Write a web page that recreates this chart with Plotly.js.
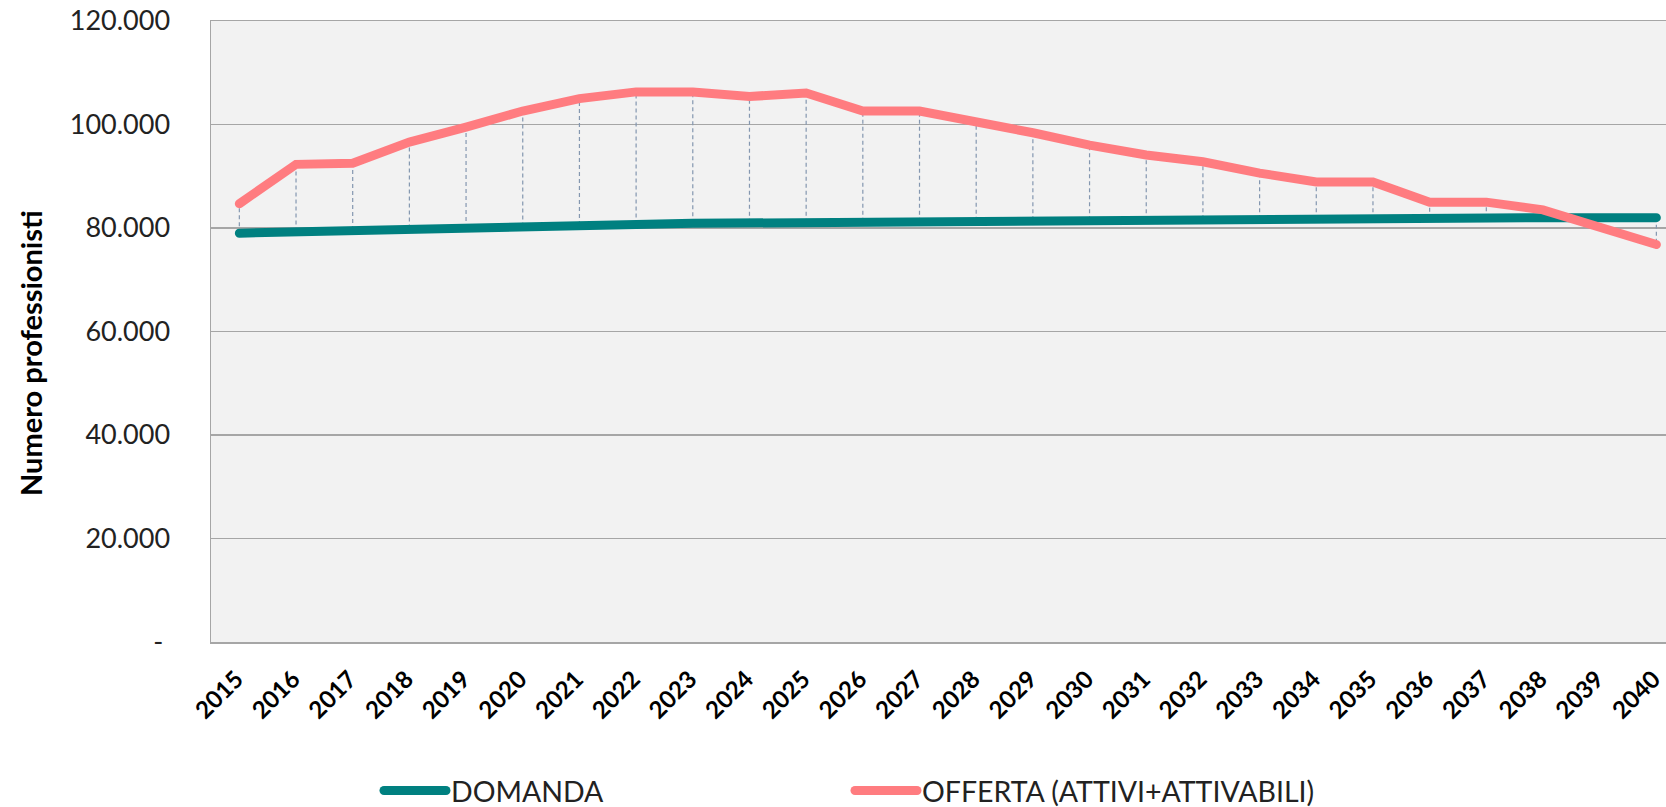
<!DOCTYPE html>
<html>
<head>
<meta charset="utf-8">
<script src="https://cdn.plot.ly/plotly-3.0.1.min.js"></script>
<style>
  html, body { margin: 0; padding: 0; background: #fff; }
  #chart { width: 1666px; height: 807px; }
  .scatterlayer .trace:not(:first-child) .js-line { stroke-linecap: round; }
  .legend .legendlines path { stroke-linecap: round; }
</style>
</head>
<body>
<div id="chart"></div>
<script>
const years = ["2015","2016","2017","2018","2019","2020","2021","2022","2023","2024","2025","2026","2027",
               "2028","2029","2030","2031","2032","2033","2034","2035","2036","2037","2038","2039","2040"];
const domanda = [79000,79300,79600,79900,80000,80300,80600,80700,80900,81000,81000,81200,81200,
                 81400,81500,81500,81500,81700,81700,81700,81700,81800,81900,82000,82000,82000];
const offerta = [84700,92300,92500,96600,99500,102600,105000,106300,106300,105400,106100,102600,102600,
                 100600,98400,96000,94100,92800,90600,88900,88900,85000,85000,83500,80200,76800];
const yTickVals = [0,20000,40000,60000,80000,100000,120000];
const yTickText = ["-\u00a0","20.000","40.000","60.000","80.000","100.000","120.000"];
const seriesNames = ["DOMANDA","OFFERTA (ATTIVI+ATTIVABILI)"];
const yTitle = "Numero professionisti";

// drop lines between the two series, built from the data arrays
const dropX = [], dropY = [];
years.forEach((y, i) => {
  dropX.push(y, y, null);
  dropY.push(domanda[i], offerta[i], null);
});

const traces = [
  { x: dropX, y: dropY, type: 'scatter', mode: 'lines', showlegend: false, hoverinfo: 'skip',
    line: { color: '#8497B0', width: 1.2, dash: '4px,3px' } },
  { x: years, y: domanda, type: 'scatter', mode: 'lines', name: seriesNames[0],
    line: { color: '#008080', width: 9 } },
  { x: years, y: offerta, type: 'scatter', mode: 'lines', name: seriesNames[1],
    line: { color: '#FF7C80', width: 9 } }
];

const layout = {
  width: 1666, height: 807,
  margin: { l: 211, r: 0, t: 21, b: 165, pad: 0, autoexpand: false },
  paper_bgcolor: '#ffffff',
  plot_bgcolor: '#F2F2F2',
  font: { family: 'Lato, sans-serif', color: '#222' },
  xaxis: {
    type: 'category',
    automargin: false,
    range: [-0.5, 25.17],
    showgrid: false, zeroline: false,
    showline: true, linecolor: '#A6A6A6', linewidth: 1.5, mirror: true,
    ticks: 'outside', ticklen: 12, tickcolor: 'rgba(0,0,0,0)',
    tickangle: -45,
    ticklabelshift: -3,
    tickfont: { family: 'Lato, sans-serif', size: 24, color: '#000', weight: 'bold' }
  },
  yaxis: {
    automargin: false,
    range: [0, 120000],
    tickvals: yTickVals, ticktext: yTickText,
    showgrid: true, gridcolor: '#A6A6A6', gridwidth: 1.3,
    zeroline: false,
    showline: true, linecolor: '#A6A6A6', linewidth: 1.5,
    ticks: 'outside', ticklen: 34, tickcolor: 'rgba(0,0,0,0)',
    tickfont: { family: 'Lato, sans-serif', size: 27, color: '#222' }
  },
  showlegend: true,
  legend: {
    orientation: 'h',
    x: (379 - 211) / 1455, xanchor: 'left',
    y: (642 - 791) / 621, yanchor: 'middle',
    entrywidth: 394, entrywidthmode: 'pixels',
    itemwidth: 62,
    font: { family: 'Lato, sans-serif', size: 28.5, color: '#222' },
    bgcolor: 'rgba(0,0,0,0)'
  },
  annotations: [{
    text: yTitle, textangle: -90,
    xref: 'paper', yref: 'paper',
    x: (31 - 211) / 1455, y: (642 - 353) / 621,
    xanchor: 'center', yanchor: 'middle', showarrow: false,
    font: { family: 'Lato, sans-serif', size: 29, color: '#000', weight: 'bold' }
  }]
};

Plotly.newPlot('chart', traces, layout, { displayModeBar: false, staticPlot: true });
</script>
</body>
</html>
